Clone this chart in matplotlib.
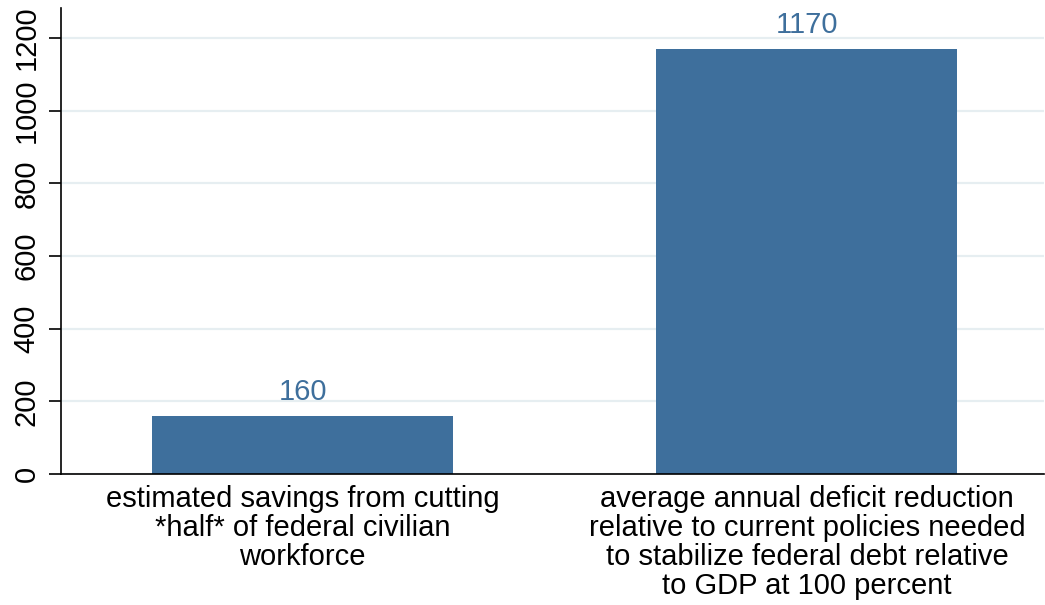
import matplotlib.pyplot as plt
import numpy as np

plt.rcParams['font.family'] = ['Liberation Sans', 'DejaVu Sans']

labels = ['estimated savings from cutting\n*half* of federal civilian\nworkforce',
          'average annual deficit reduction\nrelative to current policies needed\nto stabilize federal debt relative\nto GDP at 100 percent']
values = [160, 1170]
yticks = [0, 200, 400, 600, 800, 1000, 1200]

bar_color = '#3e6f9c'
fs = 21

fig = plt.figure(figsize=(10.45, 6.05), dpi=100)
ax = fig.add_axes([0.0584, 0.2165, 0.9406, 0.7703])

x = np.arange(len(values))
bars = ax.bar(x, values, width=0.597, color=bar_color, zorder=2)
for xi, v in zip(x, values):
    ax.annotate(str(v), (xi, v), xytext=(0, 7), textcoords='offset points',
                ha='center', va='bottom', fontsize=fs, color=bar_color)

ax.set_xlim(-0.479, 1.47)
ax.set_ylim(0, 1283)
ax.set_yticks(yticks)
ax.set_yticklabels([str(t) for t in yticks], rotation=90, va='center')
ax.set_xticks(x)
ax.set_xticklabels(labels, fontsize=fs, linespacing=1.05)
ax.tick_params(axis='x', length=0, pad=8)
ax.tick_params(axis='y', length=8.6, width=1.2, labelsize=fs, pad=6)

ax.grid(axis='y', color='#e6eef1', linewidth=1.6, zorder=0)
ax.set_axisbelow(True)
for s in ['top', 'right']:
    ax.spines[s].set_visible(False)
for s in ['left', 'bottom']:
    ax.spines[s].set_linewidth(1.2)

plt.savefig('out.png', dpi=100)
